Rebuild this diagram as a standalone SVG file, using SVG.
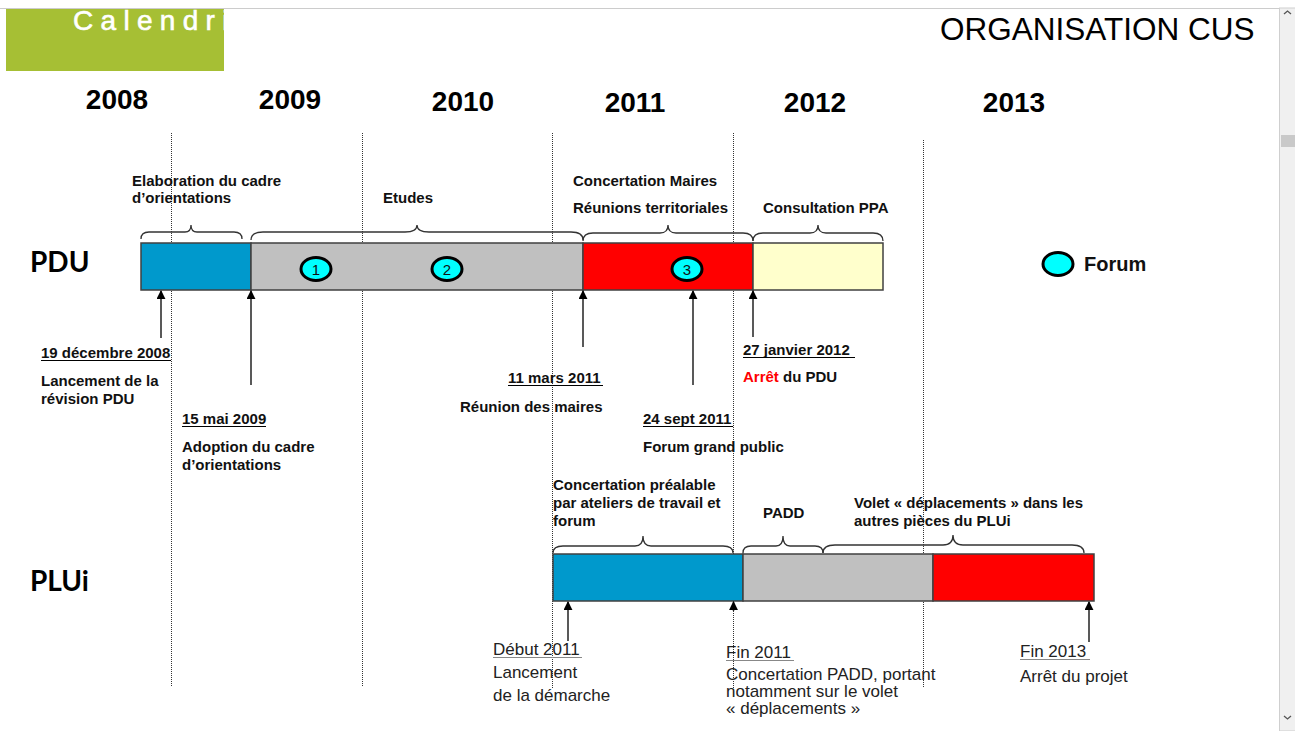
<svg xmlns="http://www.w3.org/2000/svg" width="1295" height="731" viewBox="0 0 1295 731">
  <style>
    .yr { font: bold 28px "Liberation Sans", Arial, sans-serif; fill: #000; }
    .lbl { font: bold 15px "Liberation Sans", Arial, sans-serif; fill: #111; }
    .row { font: bold 28px Lato, "Noto Sans", sans-serif; fill: #000; }
    .note { font: 17px "Liberation Sans", Arial, sans-serif; fill: #222; }
    .num { font: 15px "Liberation Sans", Arial, sans-serif; fill: #111; }
    .grid { stroke: #333; stroke-width: 1; stroke-dasharray: 1 1; fill: none; }
    .bar { stroke: #404040; stroke-width: 1.5; }
    .brace { stroke: #333; stroke-width: 1.3; fill: none; }
    .arr { stroke: #222; stroke-width: 1.5; fill: none; marker-end: url(#head); }
    .ul { stroke: #000; stroke-width: 1; }
    .ulg { stroke: #888; stroke-width: 1; }
    .forum { fill: #00ffff; stroke: #000; stroke-width: 3; }
  </style>
  <defs>
    <marker id="head" viewBox="0 0 10 10" refX="9" refY="5" markerWidth="9" markerHeight="9" markerUnits="userSpaceOnUse" orient="auto">
      <path d="M0,0 L10,5 L0,10 Z" fill="#000"/>
    </marker>
    <clipPath id="bannerClip"><rect x="6" y="9" width="218" height="62"/></clipPath>
  </defs>

  <rect width="1295" height="731" fill="#fff"/>

  <!-- window frame: top rule and scrollbar -->
  <g id="frame">
    <line x1="0" y1="8.5" x2="1280" y2="8.5" stroke="#ccc"/>
    <rect x="1279.5" y="8" width="16" height="723" fill="#f0f0f0" stroke="#cfcfcf"/>
    <rect x="1281" y="135" width="14" height="12" fill="#c9c9c9"/>
    <path d="M1284,14 L1287.5,11 L1291,14" stroke="#555" stroke-width="1.3" fill="none"/>
    <path d="M1284,716 L1287.5,719 L1291,716" stroke="#555" stroke-width="1.3" fill="none"/>
  </g>

  <!-- header -->
  <g id="banner">
    <rect x="6" y="9" width="218" height="62" fill="#a6bf34"/>
    <text x="73" y="29.5" clip-path="url(#bannerClip)" font-family="'Liberation Sans', Arial, sans-serif" font-size="28" letter-spacing="7.3" fill="#fff" stroke="#fff" stroke-width="0.6">Calendrier</text>
  </g>
  <text id="title" x="940" y="40" font-family="'Liberation Sans', Arial, sans-serif" font-size="31.5" fill="#000">ORGANISATION CUS</text>

  <!-- years -->
  <g id="years">
    <text class="yr" x="117" y="109" text-anchor="middle">2008</text>
    <text class="yr" x="290" y="109" text-anchor="middle">2009</text>
    <text class="yr" x="463" y="111" text-anchor="middle">2010</text>
    <text class="yr" x="635" y="112" text-anchor="middle">2011</text>
    <text class="yr" x="815" y="112" text-anchor="middle">2012</text>
    <text class="yr" x="1014" y="112" text-anchor="middle">2013</text>
  </g>

  <!-- year separators -->
  <g id="grid">
    <line class="grid" x1="171.5" y1="133" x2="171.5" y2="686"/>
    <line class="grid" x1="362.5" y1="133" x2="362.5" y2="686"/>
    <line class="grid" x1="552.5" y1="133" x2="552.5" y2="688"/>
    <line class="grid" x1="733.5" y1="133" x2="733.5" y2="690"/>
    <line class="grid" x1="923.5" y1="140" x2="923.5" y2="688"/>
  </g>

  <!-- PDU row -->
  <text class="row" x="30" y="272">PDU</text>
  <g id="pdu-elaboration">
    <rect class="bar" x="141" y="243" width="110" height="47" fill="#0099cc"/>
    <text class="lbl" x="132" y="186">Elaboration du cadre</text>
    <text class="lbl" x="132" y="203">d’orientations</text>
  </g>
  <g id="pdu-etudes">
    <rect class="bar" x="251" y="243" width="332" height="47" fill="#c0c0c0"/>
    <text class="lbl" x="383" y="203">Etudes</text>
    <ellipse class="forum" cx="316" cy="269" rx="15" ry="11.5"/>
    <text class="num" x="316" y="274.5" text-anchor="middle">1</text>
    <ellipse class="forum" cx="447" cy="269" rx="15" ry="11.5"/>
    <text class="num" x="447" y="274.5" text-anchor="middle">2</text>
  </g>
  <g id="pdu-concertation">
    <rect class="bar" x="583" y="243" width="170" height="47" fill="#ff0000"/>
    <text class="lbl" x="573" y="186">Concertation Maires</text>
    <text class="lbl" x="573" y="213">Réunions territoriales</text>
    <ellipse class="forum" cx="687" cy="269" rx="15" ry="11.5"/>
    <text class="num" x="687" y="274.5" text-anchor="middle">3</text>
  </g>
  <g id="pdu-consultation">
    <rect class="bar" x="753" y="243" width="130" height="47" fill="#ffffcc"/>
    <text class="lbl" x="763" y="213">Consultation PPA</text>
  </g>

  <!-- legend -->
  <g id="legend">
    <ellipse class="forum" cx="1058" cy="264" rx="15" ry="11.5"/>
    <text x="1084" y="271" font-family="'Liberation Sans', Arial, sans-serif" font-weight="bold" font-size="20" fill="#111">Forum</text>
  </g>

  <!-- PDU milestones -->
  <g id="pdu-milestones">
    <text class="lbl" x="41" y="358">19 décembre 2008</text>
    <line class="ul" x1="41" y1="360.5" x2="171" y2="360.5"/>
    <text class="lbl" x="41" y="386">Lancement de la</text>
    <text class="lbl" x="41" y="404">révision PDU</text>

    <text class="lbl" x="182" y="424">15 mai 2009</text>
    <line class="ul" x1="182" y1="426.5" x2="266" y2="426.5"/>
    <text class="lbl" x="182" y="452">Adoption du cadre</text>
    <text class="lbl" x="182" y="470">d’orientations</text>

    <text class="lbl" x="508" y="383">11 mars 2011</text>
    <line class="ul" x1="508" y1="385.5" x2="603" y2="385.5"/>
    <text class="lbl" x="460" y="412">Réunion des maires</text>

    <text class="lbl" x="643" y="424">24 sept 2011</text>
    <line class="ul" x1="643" y1="426.5" x2="733" y2="426.5"/>
    <text class="lbl" x="643" y="452">Forum grand public</text>

    <text class="lbl" x="743" y="355">27 janvier 2012</text>
    <line class="ul" x1="743" y1="357.5" x2="855" y2="357.5"/>
    <text class="lbl" x="743" y="382"><tspan fill="#ff0000">Arrêt</tspan> du PDU</text>
  </g>

  <!-- PLUi row -->
  <text class="row" x="30" y="591">PLUi</text>
  <g id="plui-concertation">
    <rect class="bar" x="553" y="554" width="190" height="47" fill="#0099cc"/>
    <text class="lbl" x="553" y="490">Concertation préalable</text>
    <text class="lbl" x="553" y="508">par ateliers de travail et</text>
    <text class="lbl" x="553" y="526">forum</text>
  </g>
  <g id="plui-padd">
    <rect class="bar" x="743" y="554" width="190" height="47" fill="#c0c0c0"/>
    <text class="lbl" x="763" y="518">PADD</text>
  </g>
  <g id="plui-volet">
    <rect class="bar" x="933" y="554" width="161" height="47" fill="#ff0000"/>
    <text class="lbl" x="854" y="508">Volet « déplacements » dans les</text>
    <text class="lbl" x="854" y="526">autres pièces du PLUi</text>
  </g>

  <!-- PLUi milestones -->
  <g id="plui-milestones">
    <text class="note" x="493" y="655">Début 2011</text>
    <line class="ulg" x1="493" y1="657.5" x2="582" y2="657.5"/>
    <text class="note" x="493" y="678">Lancement</text>
    <text class="note" x="493" y="701">de la démarche</text>

    <text class="note" x="726" y="658">Fin 2011</text>
    <line class="ulg" x1="726" y1="660.5" x2="794" y2="660.5"/>
    <text class="note" x="726" y="680">Concertation PADD, portant</text>
    <text class="note" x="726" y="697">notamment sur le volet</text>
    <text class="note" x="726" y="714">« déplacements »</text>

    <text class="note" x="1020" y="657">Fin 2013</text>
    <line class="ulg" x1="1020" y1="659.5" x2="1090" y2="659.5"/>
    <text class="note" x="1020" y="682">Arrêt du projet</text>
  </g>

  <!-- connectors: braces and milestone arrows -->
  <g id="connectors">
    <path class="brace" d="M141,239 Q141,232 149,232 L185,232 Q191,232 191,225 Q191,232 197,232 L234,232 Q242,232 242,239"/>
    <path class="brace" d="M251,240 Q251,232 263,232 L405,232 Q417,232 417,225 Q417,232 429,232 L571,232 Q583,232 583,240"/>
    <path class="brace" d="M583,241 Q583,233 593,233 L660,233 Q668,233 668,225 Q668,233 676,233 L743,233 Q753,233 753,241"/>
    <path class="brace" d="M753,241 Q753,233 763,233 L810,233 Q818,233 818,225 Q818,233 826,233 L873,233 Q883,233 883,241"/>

    <path class="brace" d="M553,553 Q553,546 563,546 L635,546 Q643,546 643,536 Q643,546 651,546 L723,546 Q733,546 733,553"/>
    <path class="brace" d="M743,553 Q743,546 751,546 L776,546 Q783,546 783,536 Q783,546 790,546 L815,546 Q823,546 823,553"/>
    <path class="brace" d="M823,553 Q823,545 835,545 L943,545 Q953,545 953,535 Q953,545 963,545 L1072,545 Q1084,545 1084,553"/>

    <line class="arr" x1="161" y1="338" x2="161" y2="291"/>
    <line class="arr" x1="251" y1="385" x2="251" y2="291"/>
    <line class="arr" x1="583" y1="347" x2="583" y2="291"/>
    <line class="arr" x1="693" y1="385" x2="693" y2="291"/>
    <line class="arr" x1="753" y1="337" x2="753" y2="291"/>

    <line class="arr" x1="568" y1="641" x2="568" y2="602"/>
    <line class="arr" x1="733.5" y1="611" x2="733.5" y2="602"/>
    <line class="arr" x1="1089" y1="642" x2="1089" y2="602"/>
  </g>
</svg>
